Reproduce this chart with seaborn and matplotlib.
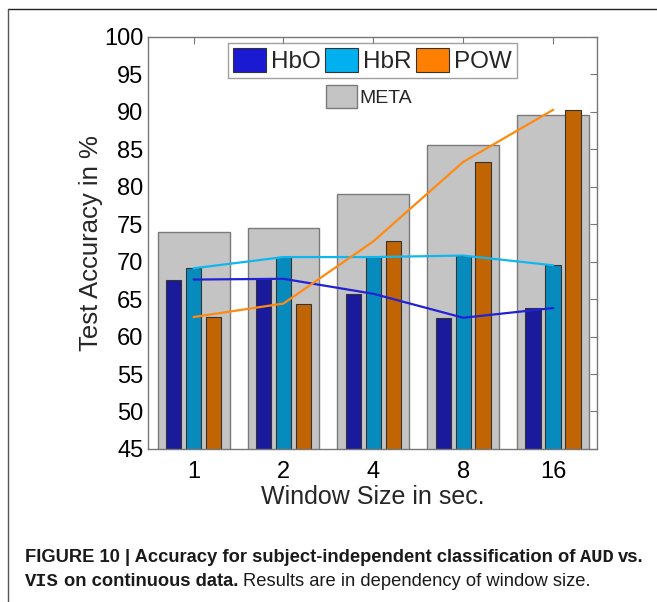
import numpy as np
import pandas as pd
import matplotlib
matplotlib.use("Agg")
import matplotlib.pyplot as plt
import seaborn as sns
from matplotlib.patches import Patch
from matplotlib.lines import Line2D
from matplotlib.transforms import IdentityTransform

# ---------------- data ----------------
window_sizes = ["1", "2", "4", "8", "16"]
meta = [74.0, 74.5, 79.0, 85.5, 89.5]
hbo = [67.6, 67.7, 65.7, 62.5, 63.8]
hbr = [69.1, 70.6, 70.6, 70.8, 69.5]
pow_ = [62.6, 64.4, 72.7, 83.3, 90.25]
series_names = ["HbO", "HbR", "POW"]

bar_colors = {"HbO": "#1a1a9c", "HbR": "#078bbd", "POW": "#c06404"}
line_colors = {"HbO": "#2222d4", "HbR": "#12b6ef", "POW": "#ff8a12"}
legend_colors = {"HbO": "#1a1ad2", "HbR": "#00b0ef", "POW": "#ff8000"}

sns.set_theme(style="white")
plt.rcParams["font.family"] = ["Liberation Sans", "DejaVu Sans"]

df_meta = pd.DataFrame({"win": window_sizes, "acc": meta})
df_long = pd.DataFrame({
    "win": window_sizes * 3,
    "series": sum([[s] * len(window_sizes) for s in series_names], []),
    "acc": hbo + hbr + pow_,
})

fig = plt.figure(figsize=(6.57, 6.02), dpi=100)
ax = fig.add_axes([0.2248, 0.2542, 0.6843, 0.6849])

# grey META bars
sns.barplot(data=df_meta, x="win", y="acc", order=window_sizes, color="#c4c4c4",
            width=0.8, edgecolor="#7a7a7a", linewidth=1.0, saturation=1, ax=ax,
            errorbar=None, zorder=1)

# coloured bars
sns.barplot(data=df_long, x="win", y="acc", hue="series", order=window_sizes,
            hue_order=series_names, palette=bar_colors, width=0.666, gap=0.22,
            edgecolor="#333333", linewidth=0.8, saturation=1, ax=ax,
            errorbar=None, legend=False, zorder=2)

# lines through category centres
xidx = np.arange(len(window_sizes))
for name, vals in zip(series_names, [hbo, hbr, pow_]):
    sns.lineplot(x=xidx, y=vals, color=line_colors[name], linewidth=1.6,
                 ax=ax, zorder=3, legend=False)

ax.set_xlim(-0.51, 4.49)
ax.set_ylim(45, 100)
ax.set_yticks(np.arange(45, 101, 5))
ax.set_xticks(xidx)
ax.set_xticklabels(window_sizes)
ax.tick_params(axis="both", direction="in", length=5, width=0.8, color="#777777",
               labelsize=17, labelcolor="black", top=True, right=True, pad=3)
ax.tick_params(axis="x", pad=9)
for sp in ax.spines.values():
    sp.set_color("#777777")
    sp.set_linewidth(1.0)
ax.set_xlabel("Window Size in sec.", fontsize=18, labelpad=1)
ax.set_ylabel("Test Accuracy in %", fontsize=18.5, labelpad=1)

# legends
handles = [Patch(facecolor=legend_colors[s], edgecolor="#333333", linewidth=0.8)
           for s in series_names]
leg1 = ax.legend(handles, series_names, ncol=3, loc="upper center",
                 bbox_to_anchor=(0.5, 1.0), fontsize=17.5, frameon=True,
                 fancybox=False, edgecolor="#888888", handlelength=1.35,
                 handleheight=1.15, handletextpad=0.2, columnspacing=0.2,
                 borderpad=0.2, borderaxespad=0.25)
leg1.get_frame().set_linewidth(1.0)
ax.add_artist(leg1)
leg2 = ax.legend([Patch(facecolor="#c4c4c4", edgecolor="#7a7a7a", linewidth=1.0)],
                 ["META"], loc="upper center", bbox_to_anchor=(0.493, 0.912),
                 fontsize=14, frameon=False, handlelength=1.55, handleheight=1.5,
                 handletextpad=0.15, borderpad=0.1)

# page border lines (figure pixel coords)
W, H = 657, 602
fig.add_artist(Line2D([8 / W, 1.0], [1 - 9 / H, 1 - 9 / H], transform=fig.transFigure,
                      color="#222222", linewidth=1.0))
fig.add_artist(Line2D([8 / W, 8 / W], [1 - 9 / H, 0.0], transform=fig.transFigure,
                      color="#555555", linewidth=1.0))

# caption with mixed fonts
narrow = ["Liberation Sans Narrow", "Liberation Sans", "DejaVu Sans"]
mono = ["Liberation Mono", "DejaVu Sans Mono"]
fig.canvas.draw()
renderer = fig.canvas.get_renderer()


def place_line(pieces, x0, y):
    x = x0
    for txt, fam, wt, size, gap in pieces:
        t = fig.text(x, y, txt, transform=IdentityTransform(), family=fam,
                     fontweight=wt, fontsize=size, color="#1a1a1a", va="baseline",
                     ha="left")
        x += t.get_window_extent(renderer).width + gap
    return x


cap = 13.2
place_line([
    ("FIGURE 10 | Accuracy for subject-independent classification of", narrow, "bold", cap, 5),
    ("AUD", mono, "bold", 13.5, 4),
    ("vs.", narrow, "bold", cap, 0),
], 25, H - 562)
place_line([
    ("VIS", mono, "bold", 13.5, 5),
    ("on continuous data.", narrow, "bold", cap, 5),
    ("Results are in dependency of window size.", narrow, "normal", cap, 0),
], 25, H - 586)

fig.savefig("out.png", dpi=100)
